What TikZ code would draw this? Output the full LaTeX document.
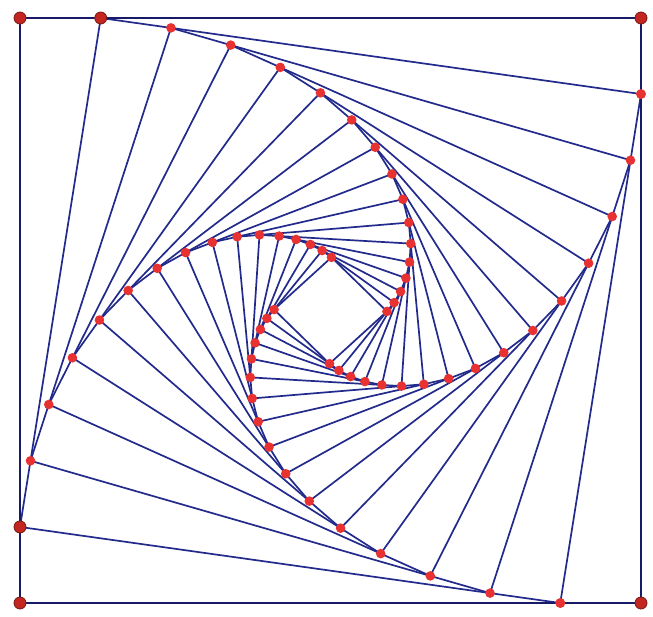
\documentclass[tikz,border=0pt]{standalone}
\usetikzlibrary{calc}
\definecolor{navy}{RGB}{34,42,140}
\definecolor{darknavy}{RGB}{22,26,105}
\definecolor{dotred}{RGB}{232,50,50}
\definecolor{darkred}{RGB}{195,38,32}
\definecolor{rimred}{RGB}{120,24,20}
\begin{document}
\begin{tikzpicture}[x=1pt,y=-1pt,
  side/.style={draw=navy,line width=1.7pt,line join=round},
  outerside/.style={draw=darknavy,line width=2.2pt},
  pdot/.style={fill=dotred},
  fdot/.style={fill=darkred,draw=rimred,line width=0.8pt}]
\useasboundingbox (0,0) rectangle (653,616);
\fill[white] (0,0) rectangle (653,616);
\coordinate (A0) at (20,18);
\coordinate (B0) at (641,18);
\coordinate (C0) at (641,603);
\coordinate (D0) at (20,603);
\foreach \i [evaluate=\i as \j using int(\i-1)] in {1,...,16}{
  \coordinate (A\i) at ($(A\j)!0.13!(B\j)$);
  \coordinate (B\i) at ($(B\j)!0.13!(C\j)$);
  \coordinate (C\i) at ($(C\j)!0.13!(D\j)$);
  \coordinate (D\i) at ($(D\j)!0.13!(A\j)$);
}
\foreach \i in {1,...,16}{
  \draw[side] (A\i) -- (B\i) -- (C\i) -- (D\i) -- cycle;
}
\draw[outerside] (A0) -- (B0) -- (C0) -- (D0) -- cycle;
\foreach \i in {2,...,16}{
  \fill[pdot] (A\i) circle[radius=4.8pt];
  \fill[pdot] (B\i) circle[radius=4.8pt];
  \fill[pdot] (C\i) circle[radius=4.8pt];
  \fill[pdot] (D\i) circle[radius=4.8pt];
}
\fill[pdot] (B1) circle[radius=5pt];
\fill[pdot] (C1) circle[radius=5pt];
\foreach \p in {A0,B0,C0,D0,A1,D1}{
  \filldraw[fdot] (\p) circle[radius=6pt];
}
\end{tikzpicture}
\end{document}
